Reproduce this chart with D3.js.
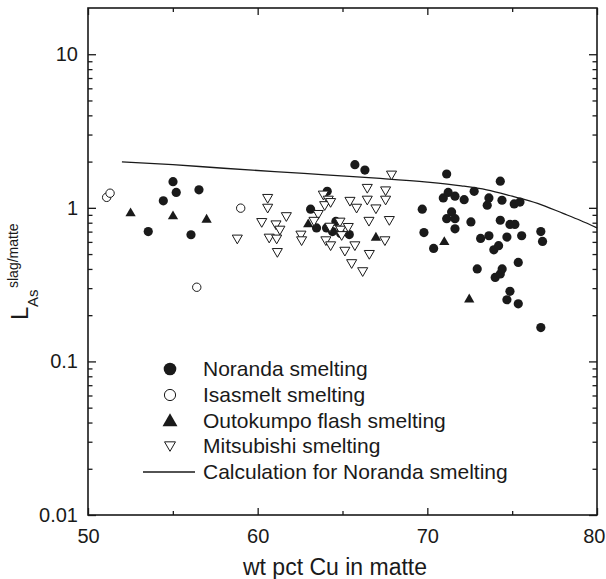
<!DOCTYPE html>
<html>
<head>
<meta charset="utf-8">
<script src="https://cdn.jsdelivr.net/npm/d3@7"></script>
<style>
  html, body { margin: 0; padding: 0; background: #fff; }
  svg { display: block; font-family: "Liberation Sans", Arial, Helvetica, sans-serif; }
</style>
</head>
<body>
<svg id="chart" width="606" height="579"></svg>
<script>
// Arsenic distribution ratio slag/matte versus copper grade of the matte
const noranda = [
  [53.55,0.70],[54.44,1.11],[55.01,1.48],[55.20,1.26],[56.07,0.668],[56.54,1.31],
  [63.12,0.98],[63.47,0.74],[64.06,0.74],[64.10,1.28],[64.41,0.70],[64.61,0.815],[64.89,0.68],[65.40,0.67],[65.73,1.91],[66.32,1.76],
  [69.70,0.98],[69.80,0.69],[70.37,0.544],[70.94,1.16],[71.14,1.66],[71.14,0.85],[71.23,1.26],[71.43,0.94],[71.63,1.19],[71.63,0.85],[71.63,0.73],
  [72.17,1.13],[72.57,0.81],[72.76,1.28],[72.94,0.40],[73.14,0.632],[73.53,1.04],[73.63,1.16],[73.63,0.658],[73.92,0.533],[74.00,0.352],
  [74.20,0.567],[74.30,1.49],[74.30,0.83],[74.30,0.371],[74.40,1.12],[74.41,0.40],[74.69,0.645],[74.69,0.252],[74.87,0.78],[74.87,0.286],
  [75.12,1.06],[75.16,0.78],[75.36,0.441],[75.36,0.237],[75.46,1.09],[75.56,0.658],[76.69,0.70],[76.79,0.604],[76.69,0.166]
];
const isasmelt = [[51.10,1.17],[51.30,1.245],[59.00,0.995],[56.41,0.304]];
const outokumpu = [[52.51,0.92],[55.01,0.88],[56.99,0.836],[62.98,0.78],[66.97,0.638],[71.00,0.598],[72.47,0.253]];
const mitsubishi = [
  [58.80,0.636],[60.59,1.17],[60.59,1.01],[60.24,0.815],[61.69,0.89],[61.08,0.787],[61.31,0.727],[60.68,0.645],[61.12,0.636],[61.16,0.52],
  [62.55,0.675],[62.59,0.62],[67.89,1.66],[66.46,1.36],[67.54,1.31],[63.87,1.23],[64.16,1.14],[63.95,1.05],[64.30,1.10],[65.44,1.12],
  [65.83,1.01],[66.46,1.14],[66.97,1.00],[67.54,1.14],[63.57,0.92],[63.32,0.83],[64.85,0.82],[66.56,0.83],[67.76,0.84],[64.26,0.76],
  [64.89,0.727],[65.34,0.757],[64.95,0.67],[64.02,0.62],[64.30,0.575],[65.73,0.575],[67.50,0.62],[65.14,0.53],[66.58,0.505],[65.54,0.44],[66.19,0.39]
];
const calculation = [
  [52,1.99],[55,1.91],[58,1.81],[61,1.72],[64,1.64],[67,1.56],[70,1.47],[72,1.39],
  [73.5,1.31],[75,1.19],[76.5,1.07],[78,0.92],[79,0.83],[80,0.74]
];
const xMajor = [50, 60, 70, 80];
const xMinor = [55, 65, 75];
const yMajor = [0.01, 0.1, 1, 10];
const yMajorLabels = ["0.01", "0.1", "1", "10"];
const yMinor = [0.01, 0.1, 1, 10].flatMap(d => [2,3,4,5,6,7,8,9].map(k => +(k * d).toPrecision(2))).filter(v => v < 20);
const legendItems = ["Noranda smelting", "Isasmelt smelting", "Outokumpo flash smelting", "Mitsubishi smelting", "Calculation for Noranda smelting"];

const svg = d3.select("#chart");
const L = 88, R = 597, T = 8, B = 515;
const x = d3.scaleLinear().domain([50, 80]).range([L, R]);
const y = d3.scaleLog().domain([0.01, 20]).range([B, T]);
const ink = "#1a1a1a";

// axes: ticks drawn inward on all four sides
function styleAxis(g) {
  g.select(".domain").remove();
  g.selectAll("line").attr("stroke", ink).attr("stroke-width", 1.3);
  g.selectAll("text").attr("fill", ink).attr("font-size", 20).attr("font-family", null);
}
svg.append("g").attr("transform", `translate(${L},0)`)
  .call(d3.axisLeft(y).tickValues(yMajor).tickFormat((d, i) => yMajorLabels[i]).tickSize(-8).tickPadding(10))
  .call(styleAxis);
svg.append("g").attr("transform", `translate(${L},0)`)
  .call(d3.axisLeft(y).tickValues(yMinor).tickFormat("").tickSize(-4.5)).call(styleAxis);
svg.append("g").attr("transform", `translate(${R},0)`)
  .call(d3.axisRight(y).tickValues(yMajor).tickFormat("").tickSize(-8)).call(styleAxis);
svg.append("g").attr("transform", `translate(${R},0)`)
  .call(d3.axisRight(y).tickValues(yMinor).tickFormat("").tickSize(-4.5)).call(styleAxis);
const xAxisG = svg.append("g").attr("transform", `translate(0,${B})`)
  .call(d3.axisBottom(x).tickValues(xMajor).tickSize(-7).tickPadding(14)).call(styleAxis);
// the last label sits against the right edge of the page
xAxisG.selectAll(".tick text").filter(d => d === 80).attr("text-anchor", "end").attr("x", 8);
svg.append("g").attr("transform", `translate(0,${B})`)
  .call(d3.axisBottom(x).tickValues(xMinor).tickFormat("").tickSize(-4)).call(styleAxis);
svg.append("g").attr("transform", `translate(0,${T})`)
  .call(d3.axisTop(x).tickValues(xMajor).tickFormat("").tickSize(-7)).call(styleAxis);
svg.append("g").attr("transform", `translate(0,${T})`)
  .call(d3.axisTop(x).tickValues(xMinor).tickFormat("").tickSize(-4)).call(styleAxis);

svg.append("rect").attr("x", L).attr("y", T).attr("width", R - L).attr("height", B - T)
  .attr("fill", "none").attr("stroke", ink).attr("stroke-width", 1.6);

// calculated curve
svg.append("path").datum(calculation)
  .attr("fill", "none").attr("stroke", ink).attr("stroke-width", 1.3)
  .attr("d", d3.line().x(d => x(d[0])).y(d => y(d[1])).curve(d3.curveMonotoneX));

const circleSym = d3.symbol().type(d3.symbolCircle);
const triSym = d3.symbol().type(d3.symbolTriangle);

const plot = svg.append("g");
plot.selectAll(".nor").data(noranda).join("path")
  .attr("transform", d => `translate(${x(d[0])},${y(d[1])})`)
  .attr("d", circleSym.size(Math.PI * 4.6 * 4.6)()).attr("fill", ink);
plot.selectAll(".isa").data(isasmelt).join("path")
  .attr("transform", d => `translate(${x(d[0])},${y(d[1])})`)
  .attr("d", circleSym.size(Math.PI * 4.2 * 4.2)()).attr("fill", "#fff").attr("stroke", ink).attr("stroke-width", 1);
plot.selectAll(".out").data(outokumpu).join("path")
  .attr("transform", d => `translate(${x(d[0])},${y(d[1])})`)
  .attr("d", triSym.size(46)()).attr("fill", ink);
plot.selectAll(".mit").data(mitsubishi).join("path")
  .attr("transform", d => `translate(${x(d[0])},${y(d[1])}) rotate(180)`)
  .attr("d", triSym.size(44)()).attr("fill", "#fff").attr("stroke", ink).attr("stroke-width", 1);

// legend
const lg = svg.append("g");
const rowsY = [376, 402, 428, 453, 479];
lg.selectAll("text").data(legendItems).join("text")
  .attr("x", 203).attr("y", (d, i) => rowsY[i]).attr("font-size", 21).attr("fill", ink).text(d => d);
const mx = 170;
lg.append("path").attr("transform", `translate(${mx},${rowsY[0] - 7})`)
  .attr("d", circleSym.size(Math.PI * 6.3 * 6.3)()).attr("fill", ink);
lg.append("path").attr("transform", `translate(${mx},${rowsY[1] - 7})`)
  .attr("d", circleSym.size(Math.PI * 5.6 * 5.6)()).attr("fill", "#fff").attr("stroke", ink).attr("stroke-width", 1);
lg.append("path").attr("transform", `translate(${mx},${rowsY[2] - 6})`)
  .attr("d", triSym.size(97)()).attr("fill", ink);
lg.append("path").attr("transform", `translate(${mx},${rowsY[3] - 8}) rotate(180)`)
  .attr("d", triSym.size(52)()).attr("fill", "#fff").attr("stroke", ink).attr("stroke-width", 1);
lg.append("line").attr("x1", 143).attr("x2", 195).attr("y1", rowsY[4] - 7).attr("y2", rowsY[4] - 7)
  .attr("stroke", ink).attr("stroke-width", 1.3);

// axis titles
svg.append("text").attr("x", 335).attr("y", 575).attr("text-anchor", "middle")
  .attr("font-size", 23).attr("fill", ink).text("wt pct Cu in matte");
svg.append("text").attr("transform", "translate(28,320) rotate(-90)")
  .attr("font-size", 24).attr("fill", ink).text("L");
svg.append("text").attr("transform", "translate(38,307) rotate(-90)")
  .attr("font-size", 15).attr("fill", ink).text("As");
svg.append("text").attr("transform", "translate(18,288) rotate(-90)")
  .attr("font-size", 14).attr("fill", ink).text("slag/matte");
</script>
</body>
</html>
